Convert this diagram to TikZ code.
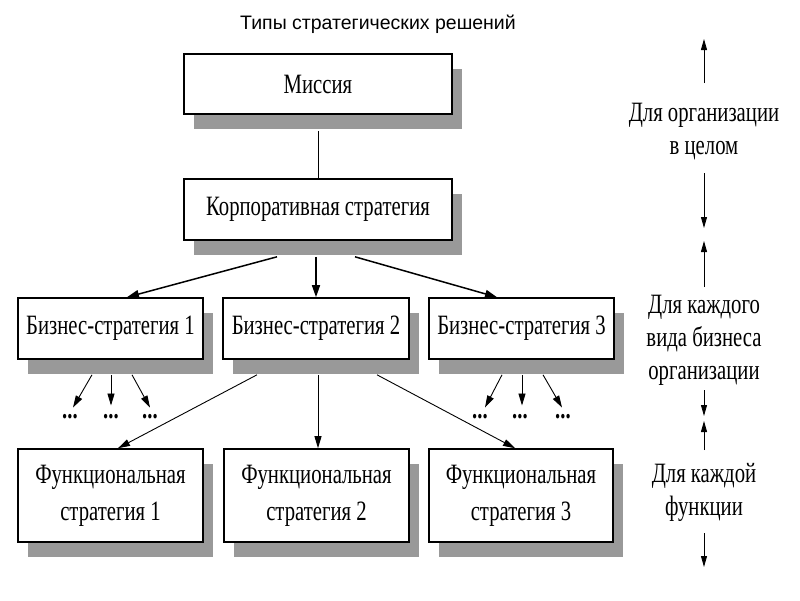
\documentclass[tikz,border=0pt]{standalone}
\usepackage{fontspec}
\newfontfamily\boxfont[FakeStretch=0.74]{Liberation Serif}
\newfontfamily\titlefont{Liberation Sans}
\usetikzlibrary{arrows.meta,shadows,calc}
\begin{document}
\begin{tikzpicture}[x=1pt,y=-1pt,
  box/.style={draw=black,line width=1.6pt,fill=white,inner sep=0pt,align=center,
    font=\boxfont\fontsize{28}{37}\selectfont,
    drop shadow={shadow xshift=10pt,shadow yshift=-15pt,fill=black!40,opacity=1}},
  lbl/.style={inner sep=0pt,align=center,font=\boxfont\fontsize{28}{33}\selectfont},
  dots/.style={inner sep=0pt,font=\boxfont\bfseries\fontsize{28}{30}\selectfont},
  conn/.style={line width=0.9pt,-{Triangle[length=12pt,width=7pt]}},
  thick conn/.style={line width=1.5pt,-{Triangle[length=12pt,width=8pt]}},
  side/.style={line width=0.9pt,-{Triangle[length=11pt,width=6pt]}}
]
\useasboundingbox (0,0) rectangle (800,600);
\fill[white] (0,0) rectangle (800,600);

\node[font=\titlefont\fontsize{19.5}{22}\selectfont,inner sep=0pt] (title) at (378,24) {Типы стратегических решений};

\node[box,minimum width=268pt,minimum height=60pt] (mission) at (318,84) {Миссия};
\node[box,minimum width=268pt,minimum height=61pt] (corp) at (318,209.5) {Корпоративная стратегия};

\node[box,minimum width=185pt,minimum height=61pt] (biz1) at (110.5,328.5) {Бизнес-стратегия 1};
\node[box,minimum width=186pt,minimum height=61pt] (biz2) at (316,328.5) {Бизнес-стратегия 2};
\node[box,minimum width=185pt,minimum height=61pt] (biz3) at (521.5,328.5) {Бизнес-стратегия 3};

\node[box,minimum width=185pt,minimum height=93pt] (func1) at (110.5,495.5) {Функциональная\\стратегия 1};
\node[box,minimum width=185pt,minimum height=93pt] (func2) at (316.5,495.5) {Функциональная\\стратегия 2};
\node[box,minimum width=184pt,minimum height=93pt] (func3) at (521,495.5) {Функциональная\\стратегия 3};

% mission to corp
\draw[line width=0.9pt] ($(mission.south)+(0,16)$) -- (corp.north);

% corp to business
\draw[thick conn] ($(corp.south)+(-41,16)$) -- ($(biz1.north)+(16.5,0)$);
\draw[thick conn] ($(corp.south)+(-2,16)$) -- (biz2.north);
\draw[thick conn] ($(corp.south)+(37,16)$) -- ($(biz3.north)+(-24.5,0)$);

% biz2 to functional
\draw[conn] ($(biz2.south)+(-59,15)$) -- ($(func1.north)+(7.5,0)$);
\draw[conn] ($(biz2.south)+(2,15)$) -- ($(func2.north)+(1.5,0)$);
\draw[conn] ($(biz2.south)+(61,15)$) -- ($(func3.north)+(-6,0)$);

% dots under biz1
\node[dots] (d11) at (70,417) {...};
\node[dots] (d12) at (111,417) {...};
\node[dots] (d13) at (150,417) {...};
\draw[conn] ($(biz1.south)+(-18.5,15)$) -- ($(d11.north)+(3,-7)$);
\draw[conn] ($(biz1.south)+(0.5,15)$) -- ($(d12.north)+(0,-9)$);
\draw[conn] ($(biz1.south)+(21.5,15)$) -- ($(d13.north)+(0,-7)$);

% dots under biz3
\node[dots] (d31) at (480,417) {...};
\node[dots] (d32) at (520,417) {...};
\node[dots] (d33) at (563,417) {...};
\draw[conn] ($(biz3.south)+(-19.5,15)$) -- ($(d31.north)+(5,-7)$);
\draw[conn] ($(biz3.south)+(0.5,15)$) -- ($(d32.north)+(2,-9)$);
\draw[conn] ($(biz3.south)+(21.5,15)$) -- ($(d33.north)+(-1,-7)$);

% right column
\node[lbl] (l1) at (704,131.5) {Для организации\\в целом};
\node[lbl] (l2) at (704,340) {Для каждого\\вида бизнеса\\организации};
\node[lbl] (l3) at (704,492.5) {Для каждой\\функции};
\coordinate (a1s) at (704,83);  \coordinate (a1e) at (704,39);
\coordinate (a2s) at (704,173); \coordinate (a2e) at (704,228);
\coordinate (a3s) at (704,287); \coordinate (a3e) at (704,241);
\coordinate (a4s) at (704,390); \coordinate (a4e) at (704,416);
\coordinate (a5s) at (704,450); \coordinate (a5e) at (704,421);
\coordinate (a6s) at (704,533); \coordinate (a6e) at (704,567);
\draw[side] (a1s) -- (a1e);
\draw[side] (a2s) -- (a2e);
\draw[side] (a3s) -- (a3e);
\draw[side] (a4s) -- (a4e);
\draw[side] (a5s) -- (a5e);
\draw[side] (a6s) -- (a6e);
\end{tikzpicture}
\end{document}
